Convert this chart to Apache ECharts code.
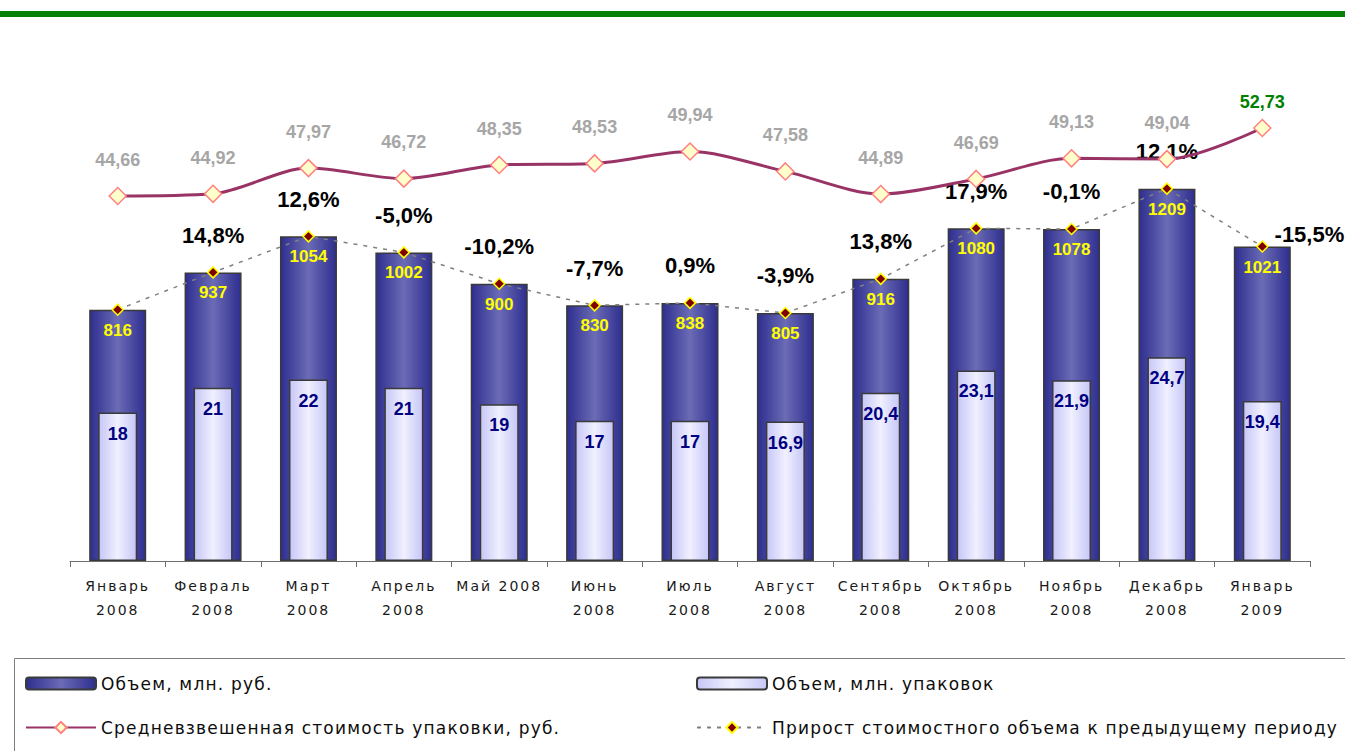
<!DOCTYPE html>
<html lang="ru">
<head>
<meta charset="UTF-8">
<title>Объем рынка</title>
<style>
    html, body { margin: 0; padding: 0; background: #fff; }
    #container { width: 1345px; height: 751px; }
    /* spaced-out lettering for axis and legend text */
    #container text[fill="#1a1a1a"] { letter-spacing: 2px; }
    #container text[fill="#0d0d0d"] { letter-spacing: 1.2px; }
</style>
</head>
<body>
<div id="container"></div>
<script src="https://cdn.jsdelivr.net/npm/echarts@6/dist/echarts.min.js"></script>
<script type="text/javascript">
    var months = ['Январь\n2008', 'Февраль\n2008', 'Март\n2008', 'Апрель\n2008', 'Май 2008', 'Июнь\n2008',
        'Июль\n2008', 'Август\n2008', 'Сентябрь\n2008', 'Октябрь\n2008', 'Ноябрь\n2008', 'Декабрь\n2008', 'Январь\n2009'];
    // объем, млн. руб.
    var volumeRub = [816, 937, 1054, 1002, 900, 830, 838, 805, 916, 1080, 1078, 1209, 1021];
    // объем, млн. упаковок
    var volumePacks = [18, 21, 22, 21, 19, 17, 17, 16.9, 20.4, 23.1, 21.9, 24.7, 19.4];
    // средневзвешенная стоимость упаковки
    var avgPrice = [44.66, 44.92, 47.97, 46.72, 48.35, 48.53, 49.94, 47.58, 44.89, 46.69, 49.13, 49.04, 52.73];
    // прирост к предыдущему периоду, %
    var growth = [null, 14.8, 12.6, -5.0, -10.2, -7.7, 0.9, -3.9, 13.8, 17.9, -0.1, 12.1, -15.5];

    function comma(v, d) {
        return v.toFixed(d).replace('.', ',');
    }

    var nameRub = 'Объем, млн. руб.';
    var namePacks = 'Объем, млн. упаковок';
    var namePrice = 'Средневзвешенная стоимость упаковки, руб.';
    var nameGrowth = 'Прирост стоимостного объема к предыдущему периоду';

    var priceData = avgPrice.map(function (v, i) {
        var item = {value: v};
        if (i === avgPrice.length - 1) {
            item.label = {color: '#008000', distance: 8};
        }
        return item;
    });

    var growthData = volumeRub.map(function (v, i) {
        var item = {value: v};
        if (i === volumeRub.length - 1) {
            item.label = {position: 'right', distance: 6, offset: [0, -12]};
        }
        return item;
    });

    var legendText = {fontFamily: 'DejaVu Sans', fontSize: 17, color: '#0d0d0d'};

    var option = {
        animation: false,
        backgroundColor: '#fff',
        textStyle: {fontFamily: 'Liberation Sans'},
        graphic: [
            {type: 'rect', left: 0, top: 11, shape: {width: 1345, height: 6}, style: {fill: '#078007'}},
            {type: 'rect', left: 12, top: 656, shape: {width: 1345, height: 110},
                style: {fill: 'none', stroke: '#7f7f7f', lineWidth: 1}}
        ],
        legend: [
            {data: [nameRub], left: 20, top: 670, itemWidth: 70, itemHeight: 12, textStyle: legendText},
            {data: [namePacks], left: 691, top: 670, itemWidth: 70, itemHeight: 12, textStyle: legendText},
            {data: [namePrice], left: 20, top: 714, itemWidth: 70, itemHeight: 14, textStyle: legendText},
            {data: [nameGrowth], left: 691, top: 714, itemWidth: 70, itemHeight: 14, textStyle: legendText}
        ],
        grid: {left: 70, right: 35, top: 99, bottom: 190, containLabel: false},
        xAxis: [
            {
                type: 'category',
                data: months,
                axisLine: {lineStyle: {color: '#6e6e6e', width: 1}},
                axisTick: {show: true, length: 6, lineStyle: {color: '#6e6e6e'}},
                axisLabel: {
                    interval: 0, margin: 13, color: '#1a1a1a', fontFamily: 'DejaVu Sans',
                    fontSize: 14, lineHeight: 24
                }
            },
            {type: 'category', data: months, show: false}
        ],
        yAxis: [
            {type: 'value', min: 0, max: 1500, show: false, splitLine: {show: false}},
            {type: 'value', min: 0, max: 56, show: false, splitLine: {show: false}},
            {type: 'value', min: 1.36, max: 56.17, show: false, splitLine: {show: false}}
        ],
        series: [
            {
                name: nameRub,
                type: 'bar',
                xAxisIndex: 0,
                yAxisIndex: 0,
                barWidth: 57,
                data: volumeRub,
                itemStyle: {
                    color: new echarts.graphic.LinearGradient(0, 0, 1, 0, [
                        {offset: 0, color: '#2e2e8f'},
                        {offset: 0.5, color: '#6b6bb6'},
                        {offset: 1, color: '#2e2e8f'}
                    ]),
                    borderColor: '#3a3a3a',
                    borderWidth: 1.5
                },
                label: {
                    show: true, position: 'insideTop', distance: 12,
                    color: '#ffff00', fontWeight: 'bold', fontSize: 17
                },
                z: 2
            },
            {
                name: namePacks,
                type: 'bar',
                xAxisIndex: 1,
                yAxisIndex: 1,
                barWidth: 39,
                data: volumePacks,
                itemStyle: {
                    color: new echarts.graphic.LinearGradient(0, 0, 1, 0, [
                        {offset: 0, color: '#c6c6f7'},
                        {offset: 0.5, color: '#f0f0ff'},
                        {offset: 1, color: '#c6c6f7'}
                    ]),
                    borderColor: '#3a3a3a',
                    borderWidth: 1.5
                },
                label: {
                    show: true, position: 'insideTop', distance: 12,
                    color: '#000080', fontWeight: 'bold', fontSize: 18,
                    formatter: function (p) {
                        return comma(p.value, p.value % 1 === 0 ? 0 : 1);
                    }
                },
                z: 3
            },
            {
                name: nameGrowth,
                type: 'line',
                xAxisIndex: 0,
                yAxisIndex: 0,
                data: growthData,
                symbol: 'diamond',
                symbolSize: 11,
                lineStyle: {color: '#808080', width: 1.5, type: [4, 6]},
                itemStyle: {color: '#800000', borderColor: '#ffff00', borderWidth: 1.5},
                label: {
                    show: true, position: 'top', distance: 20,
                    color: '#000', fontWeight: 'bold', fontSize: 22,
                    formatter: function (p) {
                        var g = growth[p.dataIndex];
                        return g === null ? '' : comma(g, 1) + '%';
                    }
                },
                z: 4
            },
            {
                name: namePrice,
                type: 'line',
                xAxisIndex: 0,
                yAxisIndex: 2,
                data: priceData,
                smooth: 0.3,
                symbol: 'diamond',
                symbolSize: 17,
                lineStyle: {color: '#993366', width: 3},
                itemStyle: {color: '#ffffcc', borderColor: '#ff8080', borderWidth: 1.5},
                label: {
                    show: true, position: 'top', distance: 18,
                    color: '#a6a6a6', fontWeight: 'bold', fontSize: 18,
                    formatter: function (p) {
                        return comma(p.value, 2);
                    }
                },
                z: 5
            }
        ]
    };

    var myChart = echarts.init(document.getElementById('container'), null, {renderer: 'svg'});
    myChart.setOption(option);
</script>
</body>
</html>
